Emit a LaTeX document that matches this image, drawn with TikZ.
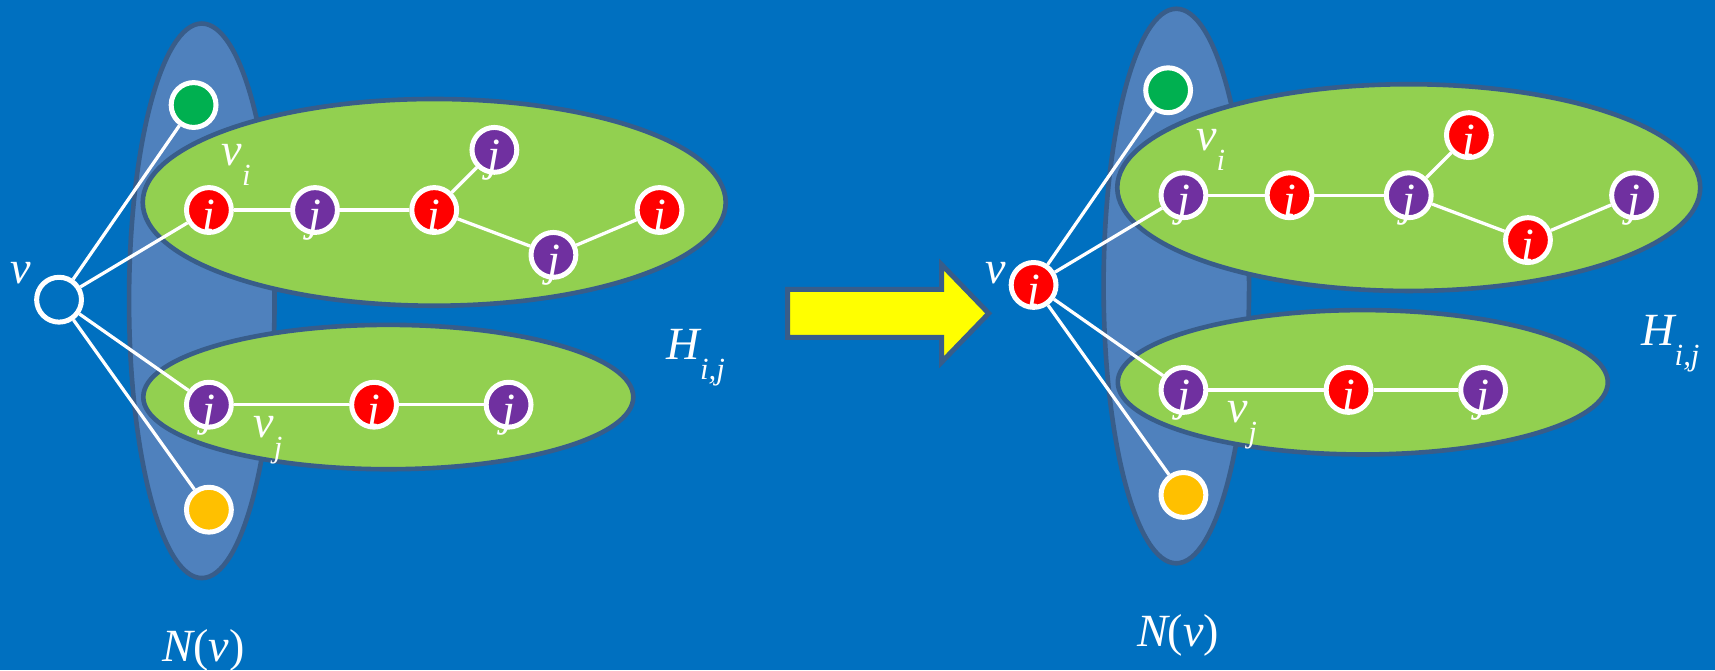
\documentclass[tikz,border=0pt]{standalone}
\usepackage{fontspec}
\setmainfont{Liberation Serif}
\usetikzlibrary{positioning, calc}

\definecolor{slide}{HTML}{0070C0}
\definecolor{nbhdfill}{HTML}{4F81BD}
\definecolor{rim}{HTML}{385D8A}
\definecolor{partfill}{HTML}{92D050}
\definecolor{vred}{HTML}{FF0000}
\definecolor{vpurple}{HTML}{7030A0}
\definecolor{vgreen}{HTML}{00B050}
\definecolor{vorange}{HTML}{FFC000}
\definecolor{stepyellow}{HTML}{FFFF00}

\newcommand{\lowsub}[2]{#1\raisebox{-5.2pt}{\fontsize{8}{8}\selectfont #2}}

\begin{document}
\begin{tikzpicture}[x=0.1mm, y=-0.1mm]

\tikzstyle{vert}=[draw=white, circle, line width=1.3pt, minimum size=4.1mm, inner sep=0pt, text=white, text height=10.7pt, text depth=0pt, font=\fontsize{12}{12}\selectfont\itshape]
\tikzstyle{ivert}=[vert, fill=vred]
\tikzstyle{jvert}=[vert, fill=vpurple]
\tikzstyle{gvert}=[vert, fill=vgreen]
\tikzstyle{overt}=[vert, fill=vorange]
\tikzstyle{edge}=[draw=white, line width=0.85pt]
\tikzstyle{nbhd}=[fill=nbhdfill, draw=rim, line width=1.2pt]
\tikzstyle{part}=[fill=partfill, draw=rim, line width=1.2pt]
\tikzstyle{tag}=[text=white, inner sep=0pt, anchor=base west, font=\fontsize{12}{12}\selectfont\itshape]

% background
\fill [slide] (0, 0) rectangle (1568, 613);
\useasboundingbox (0, 0) rectangle (1568, 613);

% before: v uncoloured
\draw [nbhd] (184.5, 275) ellipse [x radius=66.5, y radius=253.5];
\draw [part] (397, 185) ellipse [x radius=266.5, y radius=94.5];
\draw [part] (355, 363) ellipse [x radius=224, y radius=66];

\node [vert, fill=slide] (l-v) at (54, 274) {};
\node [gvert] (l-g) at (177, 96) {};
\node [overt] (l-o) at (191, 466) {};
\node [ivert] (l-t1) at (191, 192) {i};
\node [jvert] (l-t2) at (288, 192) {j};
\node [ivert] (l-t3) at (397, 192) {i};
\node [jvert] (l-t4) at (452, 137) {j};
\node [jvert] (l-t5) at (506, 233) {j};
\node [ivert] (l-t6) at (603, 192) {i};
\node [jvert] (l-b1) at (191, 370) {j};
\node [ivert] (l-b2) at (342, 370) {i};
\node [jvert] (l-b3) at (465, 370) {j};

\foreach \a/\b in {v/g, v/t1, v/b1, v/o, t1/t2, t2/t3, t3/t4, t3/t5, t5/t6, b1/b2, b2/b3}
	\draw [edge] (l-\a) -- (l-\b);

\node [tag] (l-vlbl) at (9, 259) {v};
\node [tag] (l-vi) at (202, 151) {\lowsub{v}{i}};
\node [tag] (l-vj) at (231, 400) {\lowsub{v}{j}};
\node [tag] (l-h) at (609, 329) {\lowsub{H}{i,j}};
\node [tag] (l-n) at (148, 605) {N{\upshape(}v{\upshape)}};

% swap step
\draw [fill=stepyellow, draw=rim, line width=1.3pt, line join=miter] (720, 264.5) -- (861, 264.5) -- (861, 242) -- (904, 286.5) -- (861, 331) -- (861, 308.5) -- (720, 308.5) -- cycle;

% after: v gets colour i, v_i swapped
\begin{scope}[shift={(891, -13.5)}]
\draw [nbhd] (184.5, 275) ellipse [x radius=66.5, y radius=253.5];
\draw [part] (397, 185) ellipse [x radius=266.5, y radius=94.5];
\draw [part] (355, 363) ellipse [x radius=224, y radius=66];

\node [ivert] (r-v) at (54, 274) {i};
\node [gvert] (r-g) at (177, 96) {};
\node [overt] (r-o) at (191, 466) {};
\node [jvert] (r-t1) at (191, 192) {j};
\node [ivert] (r-t2) at (288, 192) {i};
\node [jvert] (r-t3) at (397, 192) {j};
\node [ivert] (r-t4) at (452, 137) {i};
\node [ivert] (r-t5) at (506, 233) {i};
\node [jvert] (r-t6) at (603, 192) {j};
\node [jvert] (r-b1) at (191, 370) {j};
\node [ivert] (r-b2) at (342, 370) {i};
\node [jvert] (r-b3) at (465, 370) {j};

\foreach \a/\b in {v/g, v/t1, v/b1, v/o, t1/t2, t2/t3, t3/t4, t3/t5, t5/t6, b1/b2, b2/b3}
	\draw [edge] (r-\a) -- (r-\b);

\node [tag] (r-vlbl) at (9, 272.5) {v};
\node [tag] (r-vi) at (202, 151) {\lowsub{v}{i}};
\node [tag] (r-vj) at (231, 400) {\lowsub{v}{j}};
\node [tag] (r-h) at (609, 329) {\lowsub{H}{i,j}};
\node [tag] (r-n) at (148, 605) {N{\upshape(}v{\upshape)}};
\end{scope}

\end{tikzpicture}
\end{document}
